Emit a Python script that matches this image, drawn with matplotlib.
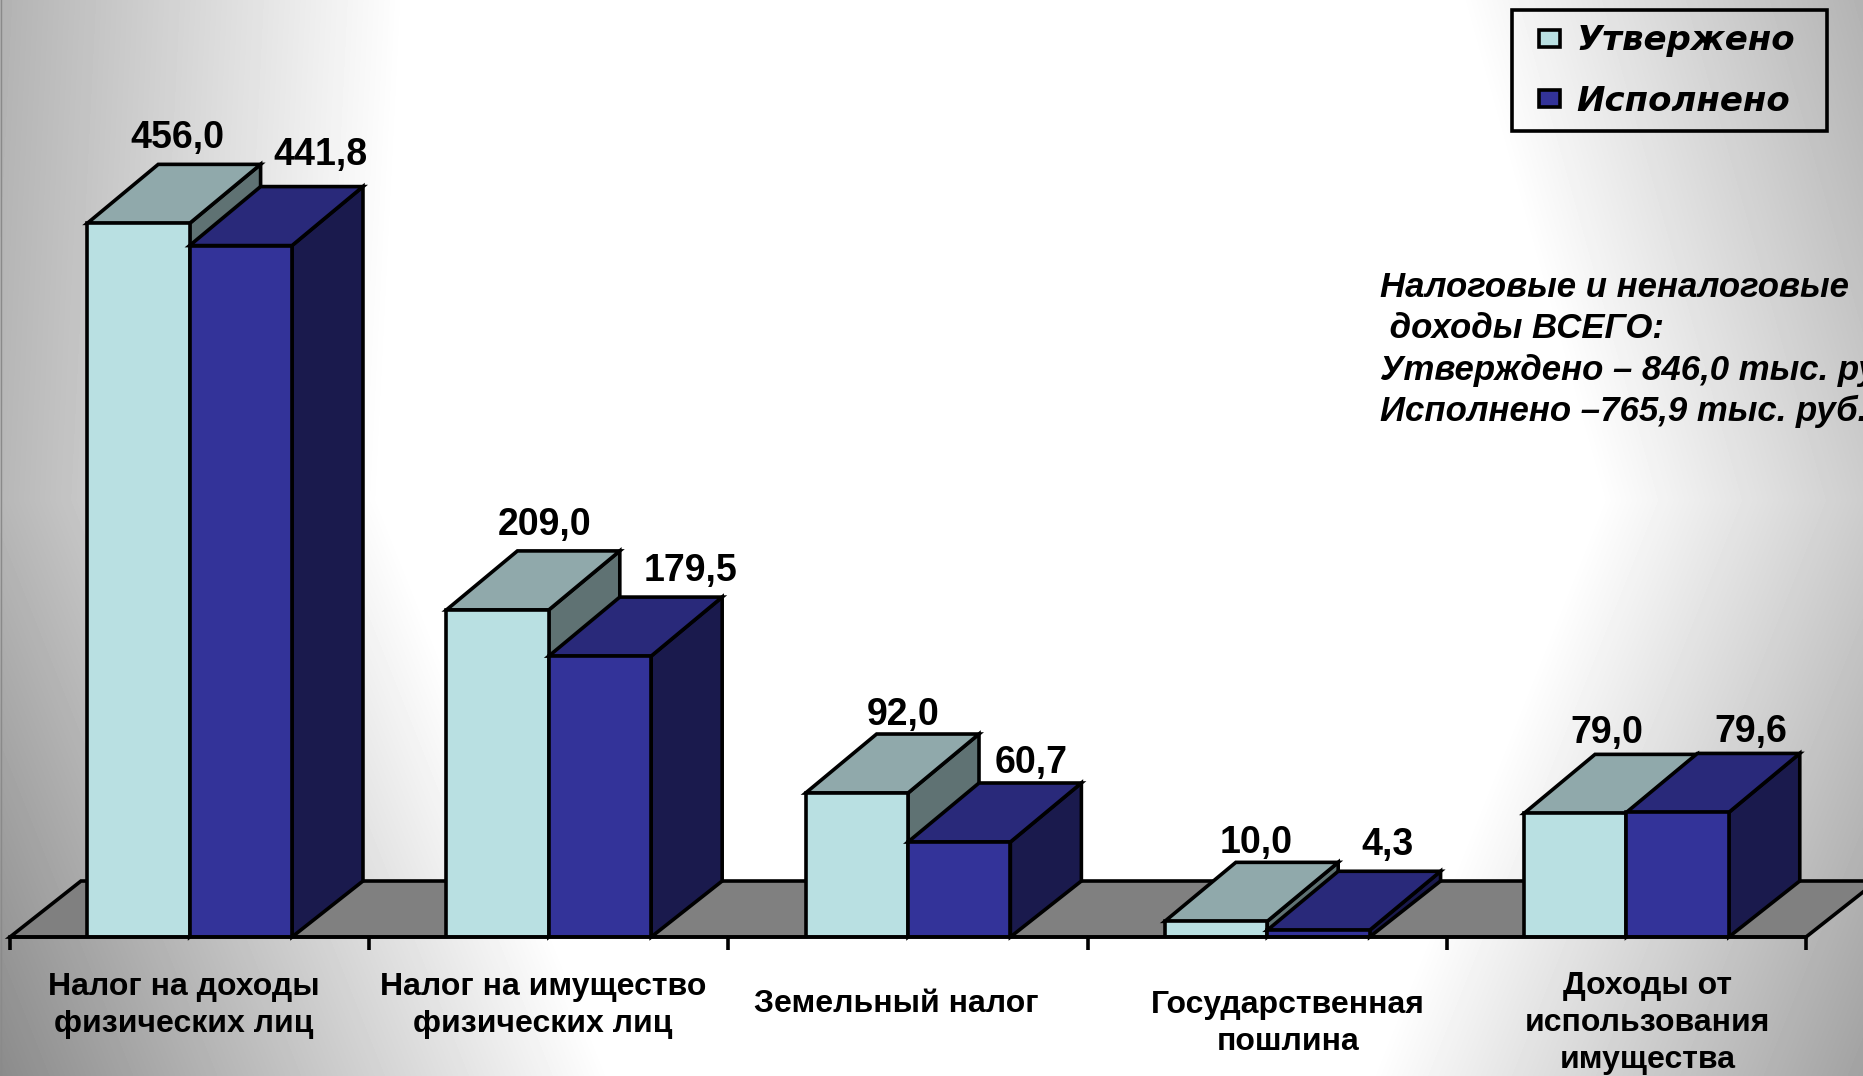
import numpy as np
import matplotlib
matplotlib.use("Agg")
import matplotlib.pyplot as plt
from matplotlib.patches import Polygon, Rectangle
from matplotlib.lines import Line2D
from matplotlib.transforms import ScaledTranslation

categories = ["Налог на доходы\nфизических лиц", "Налог на имущество\nфизических лиц",
              "Земельный налог", "Государственная\nпошлина",
              "Доходы от\nиспользования\nимущества"]
approved = [456.0, 209.0, 92.0, 10.0, 79.0]
executed = [441.8, 179.5, 60.7, 4.3, 79.6]
series_names = ["Утвержено", "Исполнено"]
note = ("Налоговые и неналоговые\n доходы ВСЕГО:\n"
        "Утверждено – 846,0 тыс. руб.\nИсполнено –765,9 тыс. руб.")

W, H = 1863, 1076
DPI = 100
BASE_Y, LEFT, RIGHT = 937, 10, 1806
PX_PER_UNIT = 1.565
DEPTH_X = 71 / ((RIGHT - LEFT) / 5)
DEPTH_Y = 59 / PX_PER_UNIT
FLOOR_DEPTH_Y = 56 / PX_PER_UNIT
BAR_W = 0.285
LW = 2.6
LIGHT, LIGHT_TOP, LIGHT_SIDE = "#B9E0E2", "#90A9AB", "#5F7273"
BLUE, BLUE_TOP, BLUE_SIDE = "#333399", "#29297A", "#1A1A4D"
FLOOR = "#808080"

# label nudges, in pixels
val_dx_a = [39, 47, 46, 40, 32]
val_dx_b = [80, 91, 72, 69, 73]
val_dy_a = [26, 26, 19, 19, 21]
val_dy_b = [32, 26, 20, 26, 21]
cat_dx = [-6, -6, -12, 21, 21]
cat_dy = [-2, -2, -19, -20, -1]

fig = plt.figure(figsize=(W / DPI, H / DPI), dpi=DPI)
plt.rcParams["font.family"] = ["Liberation Sans", "DejaVu Sans"]

# page background: white middle fading to gray towards the corners
bg = fig.add_axes([0, 0, 1, 1], zorder=0)
yy, xx = np.mgrid[0:H, 0:W]
d = np.maximum(380 - xx, xx - 1600)
cy = np.where(yy > 500, 0.40 * (yy - 500), np.where(xx < 930, 0.05, 0.28) * (500 - yy))
gray = np.clip(255 - 0.19 * np.clip(d + cy, 0, None), 0, 255) / 255
bg.imshow(gray, cmap="gray", vmin=0, vmax=1, aspect="auto", extent=(0, W, H, 0))
bg.axis("off")
fig.add_artist(Line2D([0.0003, 0.0003], [0, 1], color="#8a8a8a", lw=1))

ax = fig.add_axes([LEFT / W, 1 - BASE_Y / H, (RIGHT - LEFT) / W, BASE_Y / H], zorder=1)
ax.patch.set_alpha(0)
ax.set_xlim(0, 5)
ax.set_ylim(0, BASE_Y / PX_PER_UNIT)

ax.add_patch(Polygon([(0, 0), (DEPTH_X, FLOOR_DEPTH_Y), (5 + DEPTH_X, FLOOR_DEPTH_Y), (5, 0)],
                     closed=True, fc=FLOOR, ec="black", lw=LW, zorder=1, clip_on=False,
                     joinstyle="miter"))


def box(x0, h, front, top, side, z, label):
    ax.add_patch(Polygon([(x0 + BAR_W, 0), (x0 + BAR_W + DEPTH_X, FLOOR_DEPTH_Y),
                          (x0 + BAR_W + DEPTH_X, h + DEPTH_Y), (x0 + BAR_W, h)],
                         closed=True, fc=side, ec="black", lw=LW, zorder=z, clip_on=False))
    ax.add_patch(Polygon([(x0, h), (x0 + DEPTH_X, h + DEPTH_Y),
                          (x0 + BAR_W + DEPTH_X, h + DEPTH_Y), (x0 + BAR_W, h)],
                         closed=True, fc=top, ec="black", lw=LW, zorder=z, clip_on=False))
    return ax.bar(x0, h, BAR_W, align="edge", color=front, edgecolor="black", lw=LW,
                  zorder=z + 0.5, label=label)


handles = []
for i, (a, b) in enumerate(zip(approved, executed)):
    ha = box(i + 0.5 - BAR_W, a, LIGHT, LIGHT_TOP, LIGHT_SIDE, 2 + i * 2, series_names[0] if i == 0 else None)
    hb = box(i + 0.5, b, BLUE, BLUE_TOP, BLUE_SIDE, 3 + i * 2, series_names[1] if i == 0 else None)
    if i == 0:
        handles = [ha, hb]
    for xc, val, dxp, dyp in [(i + 0.5 - BAR_W / 2, a, val_dx_a[i], val_dy_a[i]),
                              (i + 0.5 + BAR_W / 2, b, val_dx_b[i], val_dy_b[i])]:
        ax.annotate(f"{val:.1f}".replace(".", ","), xy=(xc, val + DEPTH_Y), xytext=(dxp, dyp),
                    textcoords="offset pixels", ha="center", va="center",
                    fontsize=27, fontweight="bold", color="black", zorder=30, annotation_clip=False)

for s in ["left", "right", "top"]:
    ax.spines[s].set_visible(False)
ax.spines["bottom"].set_linewidth(LW)
ax.spines["bottom"].set_zorder(25)
ax.set_yticks([])
ax.set_xticks(range(6), labels=[""] * 6)
ax.tick_params(axis="x", which="major", length=9.5, width=LW)
ax.set_xticks(np.arange(5) + 0.5, labels=categories, minor=True)
ax.tick_params(axis="x", which="minor", length=0, pad=24)
for k, lab in enumerate(ax.get_xticklabels(minor=True)):
    lab.set_fontsize(23)
    lab.set_fontweight("bold")
    lab.set_linespacing(1.3)
    lab.set_transform(lab.get_transform() + ScaledTranslation(cat_dx[k] / DPI, cat_dy[k] / DPI, fig.dpi_scale_trans))

fig.text(1380 / W, 1 - 271 / H, note, ha="left", va="top", fontsize=25, fontweight="bold",
         fontstyle="italic", linespacing=1.32, zorder=5)

# legend: frame drawn on its own so the inner padding can differ per direction
fig.add_artist(Rectangle((1512 / W, 1 - 131 / H), 315 / W, 121 / H, transform=fig.transFigure,
                         fc="none", ec="black", lw=LW, zorder=6))
leg = fig.legend(handles=handles, labels=series_names, loc="center left",
                 bbox_to_anchor=(1539 / W, 1 - 71 / H), frameon=False,
                 handlelength=0.63, handleheight=0.4, labelspacing=0.8,
                 borderpad=0, borderaxespad=0, handletextpad=0.46,
                 prop={"family": "DejaVu Sans", "weight": "bold", "style": "oblique", "size": 24.5})
leg.set_zorder(7)

fig.savefig("out.png", dpi=DPI)
